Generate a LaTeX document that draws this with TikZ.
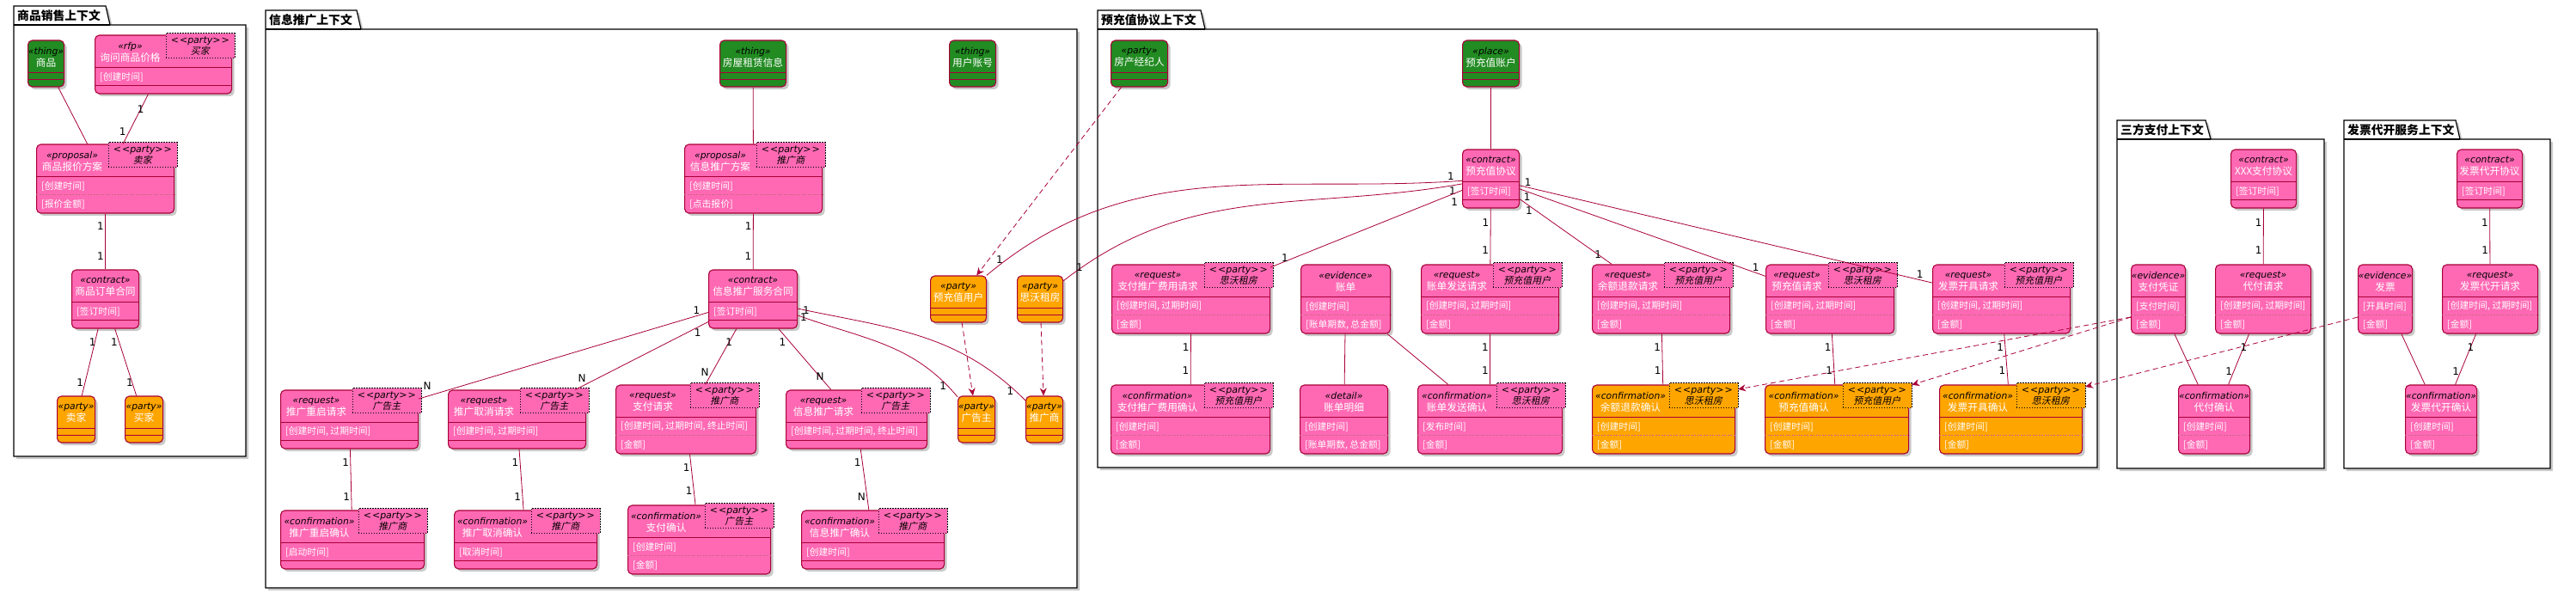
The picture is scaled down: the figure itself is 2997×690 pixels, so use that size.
\documentclass[tikz,border=0pt]{standalone}
\usepackage{fontspec}
\setmainfont{Noto Sans CJK SC}
\newfontfamily\stfont{DejaVu Sans}
\newfontfamily\tagfont{Noto Sans CJK SC}[FakeSlant=0.2]
\usetikzlibrary{arrows.meta, calc, shadows}

\definecolor{umlred}{HTML}{A80036}
\definecolor{boxpink}{HTML}{FF69B4}
\definecolor{thinggreen}{HTML}{228B22}
\definecolor{partyorange}{HTML}{FFA500}

\begin{document}
\begin{tikzpicture}[x=1pt, y=-1pt,
  classbox/.style={draw=umlred, line width=1.1pt, rounded corners=5pt, inner sep=0pt,
    drop shadow={shadow xshift=3pt, shadow yshift=-3pt, opacity=0.35, fill=black!60}},
  classline/.style={draw=umlred, line width=1.1pt},
  fieldline/.style={draw=umlred!60, line width=0.4pt, dash pattern=on 2pt off 1.5pt},
  headtext/.style={align=center, inner sep=0pt, text=white, font=\fontsize{11.7}{14}\selectfont},
  fieldtext/.style={inner sep=0pt, text=white, font=\fontsize{10.8}{13}\selectfont},
  tagbox/.style={draw=black, line width=0.6pt, dash pattern=on 1.5pt off 1.5pt, minimum width=80pt,
    minimum height=29pt, inner sep=0pt, align=center, font=\fontsize{11}{13}\selectfont},
  pkg/.style={draw=black, line width=1.2pt, fill=white,
    drop shadow={shadow xshift=3pt, shadow yshift=-3pt, opacity=0.35, fill=black!60}},
  pkgtitle/.style={font=\bfseries\fontsize{13.8}{16}\selectfont, inner sep=0pt, anchor=west},
  assoc/.style={draw=umlred, line width=0.8pt},
  dep/.style={assoc, dash pattern=on 6pt off 4pt, -{Stealth[length=9pt, width=8pt, inset=3pt]}},
  mult/.style={font=\stfont\fontsize{12}{14}\selectfont, inner sep=1.5pt, text=black}]

\useasboundingbox (0,0) rectangle (2997,690);

% Class box: name, (left,middle), width, fill, stereotype, title, field 1, field 2, party tag
\def\umlclass#1#2#3#4#5#6#7#8#9{%
  \def\boxh{54}%
  \if\relax\detokenize{#7}\relax\else\def\boxh{68}\fi
  \if\relax\detokenize{#8}\relax\else\def\boxh{80}\fi
  \node[classbox, fill=#4, minimum width=#3, minimum height=\boxh, anchor=west] (#1) at #2 {};
  \draw[classline] ([yshift=-38pt]#1.north west) -- ([yshift=-38pt]#1.north east);
  \if\relax\detokenize{#7}\relax
    \draw[classline] ([yshift=-46pt]#1.north west) -- ([yshift=-46pt]#1.north east);
  \else
    \node[fieldtext, anchor=west] (#1-a) at ([xshift=6pt,yshift=-49pt]#1.north west) {#7};
    \if\relax\detokenize{#8}\relax
      \draw[classline] ([yshift=-59pt]#1.north west) -- ([yshift=-59pt]#1.north east);
    \else
      \draw[fieldline] ([yshift=-59pt]#1.north west) -- ([yshift=-59pt]#1.north east);
      \node[fieldtext, anchor=west] (#1-b) at ([xshift=6pt,yshift=-70pt]#1.north west) {#8};
    \fi
  \fi
  \if\relax\detokenize{#9}\relax
    \node[headtext] (#1-h) at ([yshift=-20pt]#1.north)
      {{\color{black}\stfont\itshape\fontsize{10.8}{13}\selectfont «#5»}\\#6};
  \else
    \node[headtext] (#1-h) at ($([yshift=-20pt]#1.north west)!0.5!([xshift=-77pt,yshift=-20pt]#1.north east)$)
      {{\color{black}\stfont\itshape\fontsize{10.8}{13}\selectfont «#5»}\\#6};
    \node[tagbox, fill=#4, anchor=north east] (#1-t) at ([xshift=3pt,yshift=2pt]#1.north east)
      {{\stfont\itshape <\kern1pt<party>\kern1pt>}\\{\tagfont #9}};
  \fi}

% Draw packages
\draw[pkg] (16,29) -- (16,7) -- (123,7) -- (128,29) -- (286,29) -- (286,531) -- (16,531) -- cycle;
\draw[line width=1.2pt] (16,29) -- (128,29);
\node[pkgtitle] (p1) at (20,18) {商品销售上下文};
\draw[pkg] (309,34) -- (309,12) -- (415,12) -- (420,34) -- (1253,34) -- (1253,684) -- (309,684) -- cycle;
\draw[line width=1.2pt] (309,34) -- (420,34);
\node[pkgtitle] (p2) at (313,23) {信息推广上下文};
\draw[pkg] (1277,34) -- (1277,12) -- (1397,12) -- (1402,34) -- (2440,34) -- (2440,544) -- (1277,544) -- cycle;
\draw[line width=1.2pt] (1277,34) -- (1402,34);
\node[pkgtitle] (p3) at (1281,23) {预充值协议上下文};
\draw[pkg] (2463,162) -- (2463,140) -- (2566,140) -- (2572,162) -- (2704,162) -- (2704,545) -- (2463,545) -- cycle;
\draw[line width=1.2pt] (2463,162) -- (2572,162);
\node[pkgtitle] (p4) at (2467,151) {三方支付上下文};
\draw[pkg] (2727,162) -- (2727,140) -- (2857,140) -- (2862,162) -- (2967,162) -- (2967,545) -- (2727,545) -- cycle;
\draw[line width=1.2pt] (2727,162) -- (2862,162);
\node[pkgtitle] (p5) at (2731,151) {发票代开服务上下文};

% 商品销售上下文
\umlclass{sp}{(32,74)}{42}{thinggreen}{thing}{商品}{}{}{}
\umlclass{xj}{(110,75)}{159}{boxpink}{rfp}{询问商品价格}{[创建时间]}{}{买家}
\umlclass{bj}{(42,208)}{160}{boxpink}{proposal}{商品报价方案}{[创建时间]}{[报价金额]}{卖家}
\umlclass{dd}{(83,348)}{78}{boxpink}{contract}{商品订单合同}{[签订时间]}{}{}
\umlclass{seller}{(66,488)}{44}{partyorange}{party}{卖家}{}{}{}
\umlclass{buyer}{(145,488)}{44}{partyorange}{party}{买家}{}{}{}

% 信息推广上下文
\umlclass{fw}{(837,74)}{77}{thinggreen}{thing}{房屋租赁信息}{}{}{}
\umlclass{zh}{(1104,74)}{54}{thinggreen}{thing}{用户账号}{}{}{}
\umlclass{tgfa}{(796,208)}{160}{boxpink}{proposal}{信息推广方案}{[创建时间]}{[点击报价]}{推广商}
\umlclass{tght}{(824,348)}{103}{boxpink}{contract}{信息推广服务合同}{[签订时间]}{}{}
\umlclass{yczyh}{(1082,348)}{65}{partyorange}{party}{预充值用户}{}{}{}
\umlclass{swzf}{(1183,348)}{53}{partyorange}{party}{思沃租房}{}{}{}
\umlclass{cq}{(326,488)}{160}{boxpink}{request}{推广重启请求}{[创建时间, 过期时间]}{}{广告主}
\umlclass{qx}{(521,488)}{160}{boxpink}{request}{推广取消请求}{[创建时间, 过期时间]}{}{广告主}
\umlclass{zf}{(716,488)}{163}{boxpink}{request}{支付请求}{[创建时间, 过期时间, 终止时间]}{[金额]}{推广商}
\umlclass{tgqq}{(914,488)}{164}{boxpink}{request}{信息推广请求}{[创建时间, 过期时间, 终止时间]}{}{广告主}
\umlclass{ggz}{(1114,488)}{43}{partyorange}{party}{广告主}{}{}{}
\umlclass{tgs}{(1193,488)}{43}{partyorange}{party}{推广商}{}{}{}
\umlclass{cqqr}{(326,628)}{167}{boxpink}{confirmation}{推广重启确认}{[启动时间]}{}{推广商}
\umlclass{qxqr}{(528,628)}{166}{boxpink}{confirmation}{推广取消确认}{[取消时间]}{}{推广商}
\umlclass{zfqr}{(730,628)}{166}{boxpink}{confirmation}{支付确认}{[创建时间]}{[金额]}{广告主}
\umlclass{tgqr}{(932,628)}{166}{boxpink}{confirmation}{信息推广确认}{[创建时间]}{}{推广商}

% 预充值协议上下文
\umlclass{fcjjr}{(1292,74)}{66}{thinggreen}{party}{房产经纪人}{}{}{}
\umlclass{yczzh}{(1701,74)}{66}{thinggreen}{place}{预充值账户}{}{}{}
\umlclass{yczxy}{(1701,208)}{66}{boxpink}{contract}{预充值协议}{[签订时间]}{}{}
\umlclass{zftg}{(1293,348)}{184}{boxpink}{request}{支付推广费用请求}{[创建时间, 过期时间]}{[金额]}{思沃租房}
\umlclass{zd}{(1513,348)}{104}{boxpink}{evidence}{账单}{[创建时间]}{[账单期数, 总金额]}{}
\umlclass{zdfs}{(1653,348)}{160}{boxpink}{request}{账单发送请求}{[创建时间, 过期时间]}{[金额]}{预充值用户}
\umlclass{yetk}{(1852,348)}{160}{boxpink}{request}{余额退款请求}{[创建时间, 过期时间]}{[金额]}{预充值用户}
\umlclass{yczqq}{(2054,348)}{149}{boxpink}{request}{预充值请求}{[创建时间, 过期时间]}{[金额]}{思沃租房}
\umlclass{fpkj}{(2248,348)}{160}{boxpink}{request}{发票开具请求}{[创建时间, 过期时间]}{[金额]}{预充值用户}
\umlclass{zftgqr}{(1292,488)}{185}{boxpink}{confirmation}{支付推广费用确认}{[创建时间]}{[金额]}{预充值用户}
\umlclass{zdmx}{(1512,488)}{102}{boxpink}{detail}{账单明细}{[创建时间]}{[账单期数, 总金额]}{}
\umlclass{zdfsqr}{(1649,488)}{168}{boxpink}{confirmation}{账单发送确认}{[发布时间]}{[金额]}{思沃租房}
\umlclass{yetkqr}{(1852,488)}{166}{partyorange}{confirmation}{余额退款确认}{[创建时间]}{[金额]}{思沃租房}
\umlclass{yczqr}{(2053,488)}{167}{partyorange}{confirmation}{预充值确认}{[创建时间]}{[金额]}{预充值用户}
\umlclass{fpkjqr}{(2256,488)}{166}{partyorange}{confirmation}{发票开具确认}{[创建时间]}{[金额]}{思沃租房}

% 三方支付上下文
\umlclass{xxzf}{(2595,208)}{76}{boxpink}{contract}{XXX支付协议}{[签订时间]}{}{}
\umlclass{zfpz}{(2479,348)}{63}{boxpink}{evidence}{支付凭证}{[支付时间]}{[金额]}{}
\umlclass{dfqq}{(2577,348)}{111}{boxpink}{request}{代付请求}{[创建时间, 过期时间]}{[金额]}{}
\umlclass{dfqr}{(2534,488)}{83}{boxpink}{confirmation}{代付确认}{[创建时间]}{[金额]}{}

% 发票代开服务上下文
\umlclass{fpdkxy}{(2858,208)}{76}{boxpink}{contract}{发票代开协议}{[签订时间]}{}{}
\umlclass{fp}{(2743,348)}{63}{boxpink}{evidence}{发票}{[开具时间]}{[金额]}{}
\umlclass{fpdkqq}{(2841,348)}{111}{boxpink}{request}{发票代开请求}{[创建时间, 过期时间]}{[金额]}{}
\umlclass{fpdkqr}{(2798,488)}{83}{boxpink}{confirmation}{发票代开确认}{[创建时间]}{[金额]}{}

% Draw connectors in 商品销售上下文
\draw[assoc] (sp) -- (bj);
\draw[assoc] (xj) -- node[mult, pos=0.3]{1} node[mult, pos=0.75, left=2pt]{1} (bj);
\draw[assoc] (bj) -- node[mult, pos=0.23, left]{1} node[mult, pos=0.77, left]{1} (dd);
\draw[assoc] (dd) -- node[mult, pos=0.2, left=-3pt]{1} node[mult, pos=0.8, left]{1} (seller);
\draw[assoc] (dd) -- node[mult, pos=0.2, left]{1} node[mult, pos=0.8, left=-3pt]{1} (buyer);

% Draw connectors in 信息推广上下文
\draw[assoc] (fw) -- (tgfa);
\draw[assoc] (tgfa) -- node[mult, pos=0.23, left]{1} node[mult, pos=0.77, left]{1} (tght);
\draw[assoc] (tght) -- node[mult, pos=0.04, above]{1} node[mult, pos=0.97, above=6pt]{N} (cq);
\draw[assoc] (tght) -- node[mult, pos=0.08, below]{1} node[mult, pos=0.95, above=3pt]{N} (qx);
\draw[assoc] (tght) -- node[mult, pos=0.24]{1} node[mult, pos=0.78, left=2pt]{N} (zf);
\draw[assoc] (tght) -- node[mult, pos=0.22, left=3pt]{1} node[mult, pos=0.79]{N} (tgqq);
\draw[assoc] (tght) to[out=-20, in=130] node[mult, pos=0.03]{1} node[mult, pos=0.93, left]{1} (ggz);
\draw[assoc] (tght) to[out=-12, in=135] node[mult, pos=0.03]{1} node[mult, pos=0.95, left]{1} (tgs);
\draw[assoc] (cq) -- node[mult, pos=0.22, left]{1} node[mult, pos=0.79, left]{1} (cqqr);
\draw[assoc] (qx) -- node[mult, pos=0.22, left]{1} node[mult, pos=0.79, left]{1} (qxqr);
\draw[assoc] (zf) -- node[mult, pos=0.27, left]{1} node[mult, pos=0.73, left]{1} (zfqr);
\draw[assoc] (tgqq) -- node[mult, pos=0.22, left]{1} node[mult, pos=0.79, left]{N} (tgqr);
\draw[dep] (yczyh) -- (ggz);
\draw[dep] (swzf) -- (tgs);

% Draw connectors in 预充值协议上下文
\draw[assoc] (yczzh) -- (yczxy);
\draw[dep] (fcjjr) -- (yczyh);
\draw[assoc] (yczxy) to[out=184, in=40] node[mult, pos=0.02, above]{1} node[mult, pos=0.97, above]{1} (yczyh);
\draw[assoc] (yczxy) to[out=190, in=38] node[mult, pos=0.02, below]{1} node[mult, pos=0.97, above right]{1} (swzf);
\draw[assoc] (yczxy) -- node[mult, pos=0.04, below=4pt]{1} node[mult, pos=0.95, above right]{1} (zftg);
\draw[assoc] (yczxy) -- node[mult, pos=0.25, left]{1} node[mult, pos=0.75, left]{1} (zdfs);
\draw[assoc] (yczxy) -- node[mult, pos=0.1, below]{1} node[mult, pos=0.85]{1} (yetk);
\draw[assoc] (yczxy) -- node[mult, pos=0.03, below]{1} node[mult, pos=0.96, above]{1} (yczqq);
\draw[assoc] (yczxy) -- node[mult, pos=0.02, above]{1} node[mult, pos=0.97, above]{1} (fpkj);
\draw[assoc] (zftg) -- node[mult, pos=0.27, left]{1} node[mult, pos=0.73, left]{1} (zftgqr);
\draw[assoc] (zd) -- (zdmx);
\draw[assoc] (zd) -- (zdfsqr);
\draw[assoc] (zdfs) -- node[mult, pos=0.27, left]{1} node[mult, pos=0.73, left]{1} (zdfsqr);
\draw[assoc] (yetk) -- node[mult, pos=0.27, left]{1} node[mult, pos=0.73, left]{1} (yetkqr);
\draw[assoc] (yczqq) -- node[mult, pos=0.27, left]{1} node[mult, pos=0.73, left]{1} (yczqr);
\draw[assoc] (fpkj) -- node[mult, pos=0.27, left]{1} node[mult, pos=0.73, left]{1} (fpkjqr);

% Draw connectors in 三方支付上下文 and 发票代开服务上下文
\draw[assoc] (xxzf) -- node[mult, pos=0.25, left]{1} node[mult, pos=0.75, left]{1} (dfqq);
\draw[assoc] (dfqq) -- node[mult, pos=0.26]{1} node[mult, pos=0.74, left]{1} (dfqr);
\draw[assoc] (zfpz) -- (dfqr);
\draw[assoc] (fpdkxy) -- node[mult, pos=0.25, left]{1} node[mult, pos=0.75, left]{1} (fpdkqq);
\draw[assoc] (fpdkqq) -- node[mult, pos=0.26]{1} node[mult, pos=0.74, left]{1} (fpdkqr);
\draw[assoc] (fp) -- (fpdkqr);

% Add dependencies across contexts
\draw[dep] ([yshift=-21pt]zfpz.west) -- (yetkqr-t);
\draw[dep] ([yshift=-21pt]zfpz.west) -- (yczqr-t);
\draw[dep] ([yshift=-21pt]fp.west) -- (fpkjqr-t);
\end{tikzpicture}
\end{document}
